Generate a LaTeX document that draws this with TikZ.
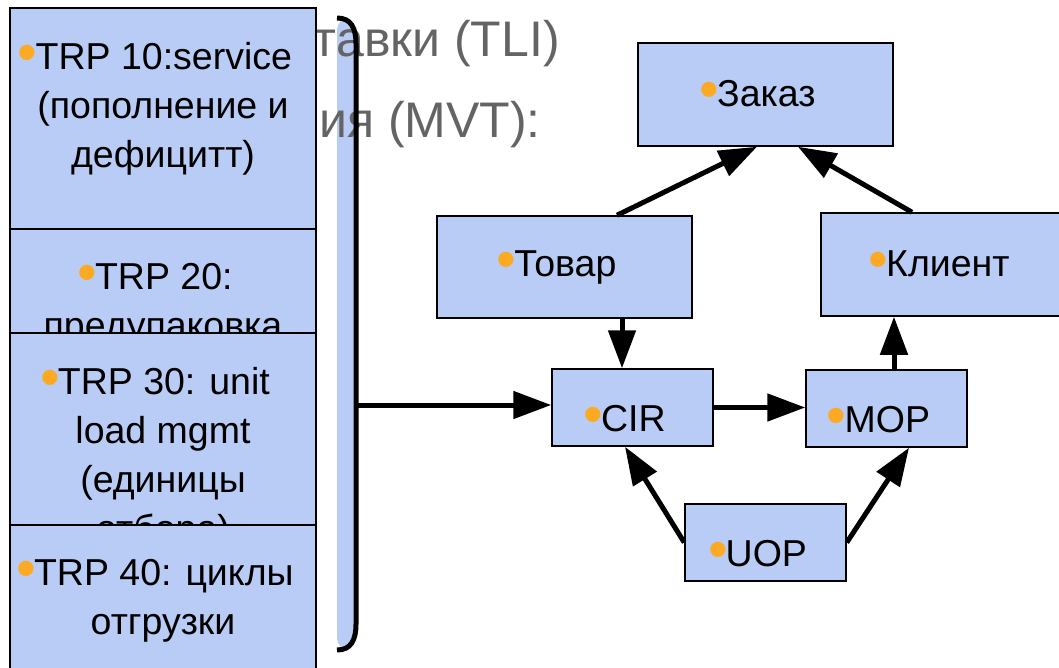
\documentclass[tikz,border=0pt]{standalone}
\usepackage{fontspec}
\setmainfont{Liberation Sans}
\usetikzlibrary{arrows.meta,calc}
\definecolor{boxblue}{RGB}{185,204,245}
\definecolor{bulorange}{RGB}{252,170,36}
\definecolor{bggray}{RGB}{100,100,100}
\newcommand{\bul}{\kern-16pt\raisebox{-0.06em}{\scalebox{1.5}{\textcolor{bulorange}{•}}}\kern-2pt}

\begin{document}
\begin{tikzpicture}[x=1pt, y=-1pt,
  box/.style={draw, line width=1.5pt, fill=boxblue, inner sep=0pt, font=\fontsize{37.5}{45}\selectfont},
  trptext/.style={anchor=north, align=center, inner sep=0pt, font=\fontsize{37.5}{49}\selectfont},
  low/.style={text height=48pt, text depth=0pt},
  bgtext/.style={anchor=base east, inner sep=0pt, text=bggray, font=\fontsize{50}{58}\selectfont},
  arr/.style={-{Triangle[length=38pt, width=27pt]}, line width=5pt}
]
\clip (0,0) rectangle (1059,668);

% brace background
\fill[boxblue, rounded corners=12pt] (337,18) rectangle (355,650);

% text behind the left column
\node[bgtext] (tli) at (560,57) {ставки (TLI)};
\node[bgtext] (mvt) at (541,138) {ния (MVT):};

% left column
\node[box, minimum width=306pt, minimum height=221pt] (trp10) at (163,118.5) {};
\node[trptext] (trp10txt) at ($(trp10.north)+(0,35)$) {\bul TRP 10:service\\(пополнение и\\дефицитт)};
\node[box, minimum width=306pt, minimum height=104pt] (trp20) at (163,281) {};
\node[trptext] (trp20txt) at ($(trp20.north)+(0,35)$) {\bul TRP 20:\\предупаковка};
\node[box, minimum width=306pt, minimum height=192pt] (trp30) at (163,429) {};
\node[trptext] (trp30txt) at ($(trp30.north)+(0,35)$) {\bul TRP 30: unit\\load mgmt\\(единицы\\отбора)};
\node[box, minimum width=306pt, minimum height=180pt] (trp40) at (163,615) {};
\node[trptext] (trp40txt) at ($(trp40.north)+(0,35)$) {\bul TRP 40: циклы\\отгрузки};

% brace line
\draw[line width=5pt] (337,18) .. controls (351,18) and (356,28) .. (356,44) -- (356,624) .. controls (356,640) and (351,650) .. (337,650);
\coordinate (brmid) at (356,405);

% objects
\node[box, minimum width=255pt, minimum height=103pt] (zakaz) at (765.5,94.5) {\bul Заказ};
\node[box, minimum width=255pt, minimum height=102pt] (tovar) at (564.5,267) {\bul Товар};
\node[box, minimum width=252pt, minimum height=103pt] (klient) at (947,264.5) {\bul Клиент};
\node[box, low, minimum width=161pt, minimum height=77pt] (cir) at (632.5,407.5) {\bul CIR};
\node[box, low, minimum width=161pt, minimum height=77pt] (mop) at (886.5,408.5) {\bul MOP};
\node[box, low, minimum width=161pt, minimum height=77pt] (uop) at (765.5,542.5) {\bul UOP};

\draw[arr] (brmid) -- (brmid -| cir.west);
\draw[arr] (cir.east) -- (cir.east -| mop.west);
\draw[arr] ($(tovar.south)+(57.5,0)$) -- ($(cir.north)+(-10.5,0)$);
\draw[arr] ($(mop.north)+(7.5,0)$) -- ($(klient.south)+(-53,0)$);
\draw[arr] ($(tovar.north)+(52.5,0)$) -- ($(zakaz.south)+(-8.5,0)$);
\draw[arr] ($(klient.north)+(-35,0)$) -- ($(zakaz.south)+(32.5,0)$);
\draw[arr] (uop.west) -- ($(cir.south)+(-7.5,0)$);
\draw[arr] (uop.east) -- ($(mop.south)+(22.5,0)$);
\end{tikzpicture}
\end{document}
